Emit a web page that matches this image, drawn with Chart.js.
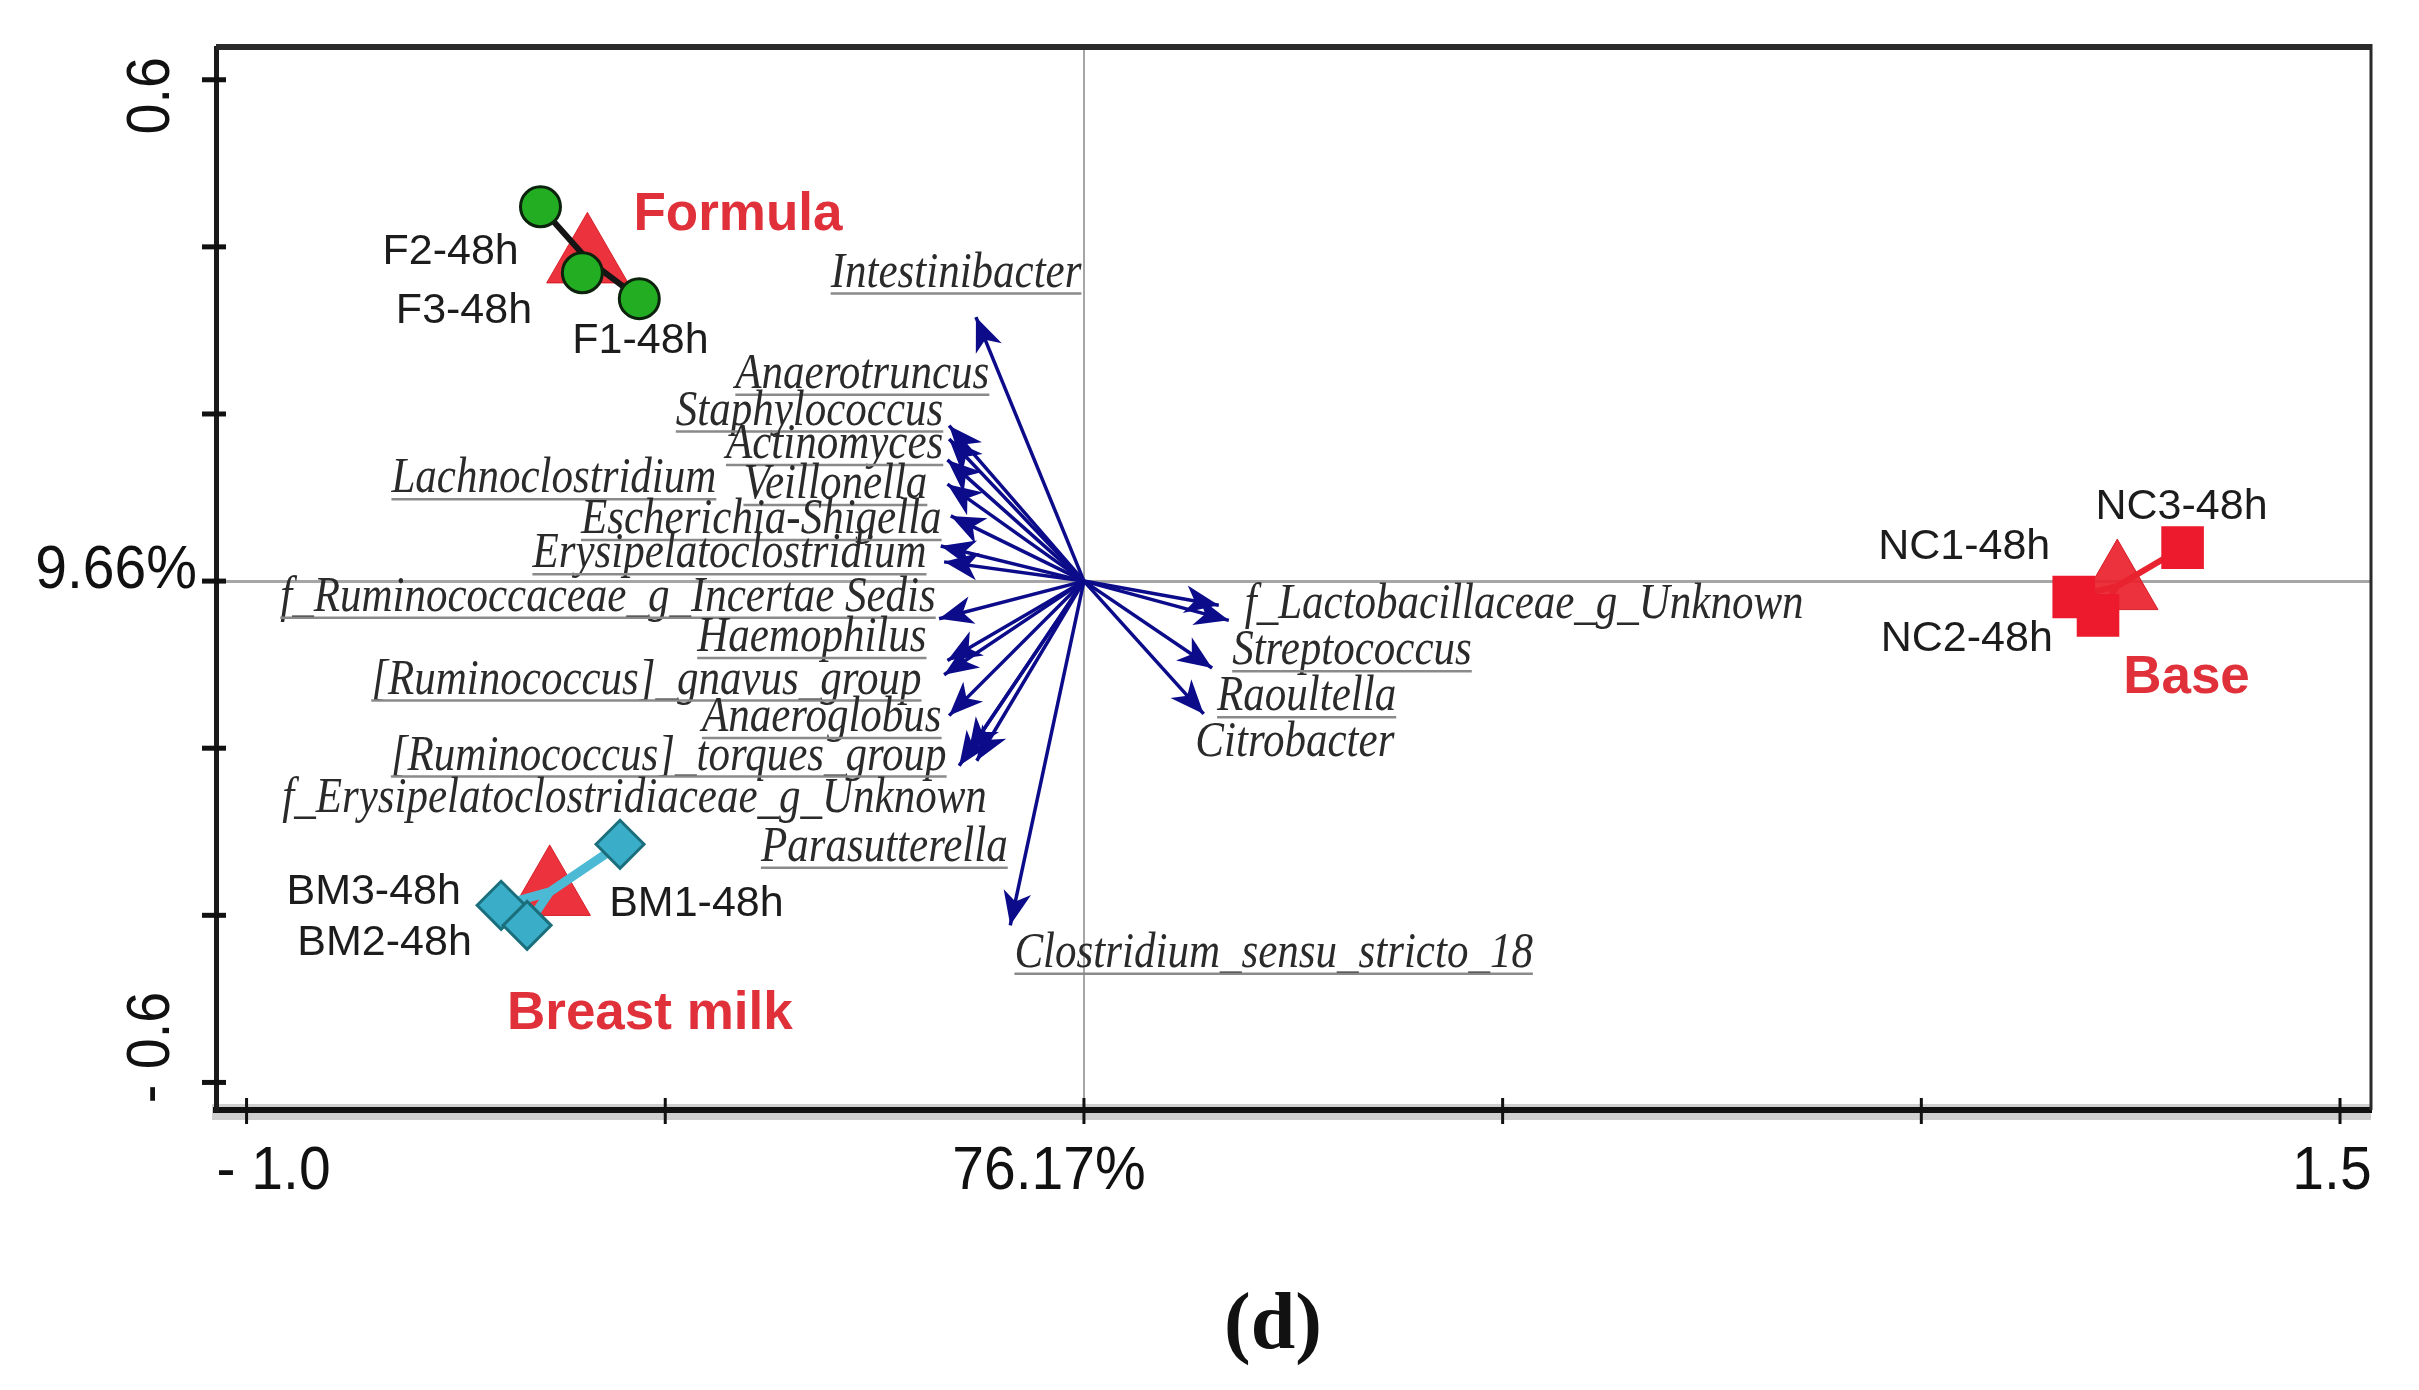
<!DOCTYPE html>
<html>
<head>
<meta charset="utf-8">
<title>RDA (d)</title>
<script src="https://cdn.jsdelivr.net/npm/chart.js@4.4.1/dist/chart.umd.min.js"></script>
<style>
  html, body { margin: 0; padding: 0; background: #fff; }
  #wrap { width: 2419px; height: 1390px; }
</style>
</head>
<body>
<div id="wrap"><canvas id="rda" width="2419" height="1390"></canvas></div>
<script>
// ---- valores ----
const xTicks = [-1.0, -0.5, 0, 0.5, 1.0, 1.5];
const xTickLabels = ['- 1.0', '', '76.17%', '', '', '1.5'];
const yTicks = [-0.6, -0.4, -0.2, 0, 0.2, 0.4, 0.6];
const yTickLabels = ['- 0.6', '', '', '9.66%', '', '', '0.6'];

// especies (flechas)
const speciesNames = [
    'Intestinibacter', 'Anaerotruncus', 'Staphylococcus', 'Actinomyces',
    'Lachnoclostridium', 'Veillonella', 'Escherichia-Shigella', 'Erysipelatoclostridium',
    'f_Ruminococcaceae_g_Incertae Sedis', 'Haemophilus', '[Ruminococcus]_gnavus_group',
    'Anaeroglobus', '[Ruminococcus]_torques_group', 'f_Erysipelatoclostridiaceae_g_Unknown',
    'Parasutterella', 'Clostridium_sensu_stricto_18', 'f_Lactobacillaceae_g_Unknown',
    'Streptococcus', 'Raoultella', 'Citrobacter'
];
const speciesX = [-0.129, -0.161, -0.161, -0.163, -0.171, -0.163, -0.159, -0.167,
    -0.173, -0.163, -0.167, -0.161, -0.149, -0.138, -0.128, -0.088, 0.161, 0.173, 0.153, 0.143];
const speciesY = [0.316, 0.186, 0.170, 0.145, 0.042, 0.116, 0.078, 0.023,
    -0.045, -0.095, -0.112, -0.161, -0.221, -0.205, -0.215, -0.412, -0.029, -0.047, -0.104, -0.159];
const speciesUnderlined = [true, true, true, true, true, true, true, true,
    true, true, true, true, true, false, true, true, false, true, true, false];

// muestras
const sampleNames = ['F2-48h', 'F3-48h', 'F1-48h', 'BM1-48h', 'BM3-48h', 'BM2-48h', 'NC3-48h', 'NC1-48h', 'NC2-48h'];
const sampleX = [-0.649, -0.599, -0.531, -0.554, -0.696, -0.665, 1.312, 1.182, 1.211];
const sampleY = [0.448, 0.369, 0.338, -0.315, -0.388, -0.412, 0.040, -0.019, -0.041];
const sampleGroup = [0, 0, 0, 1, 1, 1, 2, 2, 2];

// grupos (centroides)
const groupNames = ['Formula', 'Breast milk', 'Base'];
const groupX = [-0.593, -0.638, 1.234];
const groupY = [0.385, -0.372, -0.006];

// ---- ubicacion de etiquetas (coordenadas del grafico) ----
const speciesLabelPos = [
    [-0.003, 0.368, 'right'], [-0.113, 0.247, 'right'], [-0.168, 0.203, 'right'], [-0.168, 0.163, 'right'],
    [-0.439, 0.122, 'right'], [-0.187, 0.115, 'right'], [-0.170, 0.073, 'right'], [-0.188, 0.032, 'right'],
    [-0.177, -0.020, 'right'], [-0.188, -0.068, 'right'], [-0.194, -0.119, 'right'], [-0.170, -0.164, 'right'],
    [-0.164, -0.210, 'right'], [-0.116, -0.261, 'right'], [-0.091, -0.319, 'right'], [-0.083, -0.446, 'left'],
    [0.192, -0.028, 'left'], [0.177, -0.084, 'left'], [0.159, -0.139, 'left'], [0.133, -0.194, 'left']
];
const sampleLabelPos = [
    [-0.675, 0.394, 'right'], [-0.659, 0.323, 'right'], [-0.611, 0.287, 'left'],
    [-0.567, -0.387, 'left'], [-0.744, -0.372, 'right'], [-0.731, -0.433, 'right'],
    [1.208, 0.089, 'left'], [1.154, 0.041, 'right'], [1.157, -0.069, 'right']
];
const groupLabelPos = [[-0.538, 0.438], [-0.689, -0.519], [1.241, -0.116]];

const NAVY = '#0c0c8a';
const RED = '#e8222e';
const SQUEEZE = 0.92;
const SPECIES_SQUEEZE = 0.86;

function pt(x, y) { return { x: x, y: y }; }

// flechas: una linea desde el origen hasta cada especie
const arrowSets = speciesNames.map((name, i) => ({
    type: 'line',
    label: name,
    data: [pt(0, 0), pt(speciesX[i], speciesY[i])],
    borderColor: NAVY,
    borderWidth: 3.5,
    pointRadius: 0,
    showLine: true,
    order: 50
}));

// lineas desde el centroide a cada muestra
const spiderColors = ['#151515', '#4cbad4', RED];
const spiderWidths = [6, 9, 6];
const spiderSets = groupNames.map((g, gi) => {
    const pts = [];
    sampleGroup.forEach((sg, i) => {
        if (sg === gi) {
            pts.push(pt(groupX[gi], groupY[gi]));
            pts.push(pt(sampleX[i], sampleY[i]));
        }
    });
    return {
        type: 'line',
        label: g + ' lines',
        data: pts,
        borderColor: spiderColors[gi],
        borderWidth: spiderWidths[gi],
        pointRadius: 0,
        showLine: true,
        order: 30
    };
});

const centroidSet = {
    label: 'centroides',
    data: groupX.map((x, i) => pt(x, groupY[i])),
    pointStyle: 'triangle',
    pointRadius: 47,
    backgroundColor: 'rgba(234,34,44,0.92)',
    borderColor: 'rgba(210,20,30,0.9)',
    borderWidth: 1,
    order: 40
};

const markerStyles = ['circle', 'rectRot', 'rect'];
const markerRadius = [20, 24, 28];
const markerFill = ['#23ad23', '#3aaec8', '#ec1a2c'];
const markerEdge = ['#0c220c', '#1b6f7c', '#ec1a2c'];
const markerSets = groupNames.map((g, gi) => ({
    label: g,
    data: sampleX.map((x, i) => pt(x, sampleY[i])).filter((p, i) => sampleGroup[i] === gi),
    pointStyle: markerStyles[gi],
    pointRadius: markerRadius[gi],
    backgroundColor: markerFill[gi],
    borderColor: markerEdge[gi],
    borderWidth: 3,
    order: 20
}));

function squeezedText(ctx, text, x, y, align, scale) {
    const w = ctx.measureText(text).width * scale;
    let left = x;
    if (align === 'right') left = x - w;
    if (align === 'center') left = x - w / 2;
    ctx.save();
    ctx.translate(left, y);
    ctx.scale(scale, 1);
    ctx.textAlign = 'left';
    ctx.fillText(text, 0, 0);
    ctx.restore();
    return { left: left, width: w };
}

function drawArrowHead(ctx, x0, y0, x1, y1) {
    const dx = x1 - x0, dy = y1 - y0;
    const len = Math.hypot(dx, dy);
    const ux = dx / len, uy = dy / len;
    const nx = -uy, ny = ux;
    const L = 34, W = 14;
    ctx.beginPath();
    ctx.moveTo(x1, y1);
    ctx.lineTo(x1 - ux * L + nx * W, y1 - uy * L + ny * W);
    ctx.lineTo(x1 - ux * L * 0.72, y1 - uy * L * 0.72);
    ctx.lineTo(x1 - ux * L - nx * W, y1 - uy * L - ny * W);
    ctx.closePath();
    ctx.fill();
}

const rdaDecor = {
    id: 'rdaDecor',
    beforeDraw(chart) {
        const ctx = chart.ctx, a = chart.chartArea;
        ctx.save();
        ctx.fillStyle = '#fff';
        ctx.fillRect(0, 0, chart.width, chart.height);
        // sombra gris del eje inferior
        ctx.strokeStyle = '#cfcfcf';
        ctx.lineWidth = 16;
        ctx.beginPath();
        ctx.moveTo(a.left - 4, a.bottom + 2);
        ctx.lineTo(a.right, a.bottom + 2);
        ctx.stroke();
        ctx.restore();
    },
    afterDatasetsDraw(chart) {
        const ctx = chart.ctx, xs = chart.scales.x, ys = chart.scales.y;
        const ox = xs.getPixelForValue(0), oy = ys.getPixelForValue(0);
        ctx.save();
        ctx.fillStyle = NAVY;
        speciesX.forEach((x, i) => {
            drawArrowHead(ctx, ox, oy, xs.getPixelForValue(x), ys.getPixelForValue(speciesY[i]));
        });
        ctx.restore();
    },
    afterDraw(chart) {
        const ctx = chart.ctx, a = chart.chartArea, xs = chart.scales.x, ys = chart.scales.y;
        ctx.save();

        // marco superior y derecho
        ctx.strokeStyle = '#2a2a2a';
        ctx.lineWidth = 6;
        ctx.beginPath();
        ctx.moveTo(a.left, a.top - 1);
        ctx.lineTo(a.right, a.top - 1);
        ctx.stroke();
        ctx.lineWidth = 3;
        ctx.beginPath();
        ctx.moveTo(a.right, a.top - 4);
        ctx.lineTo(a.right, a.bottom);
        ctx.stroke();

        // marcas de los ejes
        ctx.strokeStyle = '#111';
        ctx.lineWidth = 3;
        xTicks.forEach(v => {
            const px = xs.getPixelForValue(v);
            ctx.beginPath();
            ctx.moveTo(px, a.bottom - 12);
            ctx.lineTo(px, a.bottom + 14);
            ctx.stroke();
        });
        ctx.lineWidth = 5;
        yTicks.forEach(v => {
            const py = ys.getPixelForValue(v);
            ctx.beginPath();
            ctx.moveTo(a.left - 14, py);
            ctx.lineTo(a.left + 10, py);
            ctx.stroke();
        });

        // etiquetas de los ejes
        ctx.fillStyle = '#111';
        ctx.font = '62px "Liberation Sans", Arial, sans-serif';
        ctx.textBaseline = 'middle';
        const xLabelShift = [27, 0, -35, 0, 0, -8];
        xTicks.forEach((v, i) => {
            if (!xTickLabels[i]) return;
            squeezedText(ctx, xTickLabels[i], xs.getPixelForValue(v) + xLabelShift[i], a.bottom + 62, 'center', SQUEEZE);
        });
        yTicks.forEach((v, i) => {
            const lab = yTickLabels[i];
            if (!lab) return;
            const py = ys.getPixelForValue(v);
            if (v === 0) {
                squeezedText(ctx, lab, a.left - 19, py - 10, 'right', SQUEEZE);
            } else {
                ctx.save();
                ctx.translate(a.left - 64, v > 0 ? py + 16 : py - 35);
                ctx.rotate(-Math.PI / 2);
                squeezedText(ctx, lab, 0, 0, 'center', 0.9);
                ctx.restore();
            }
        });

        // nombres de especies
        ctx.font = 'italic 50px "Liberation Serif", "Times New Roman", serif';
        speciesNames.forEach((name, i) => {
            const p = speciesLabelPos[i];
            const px = xs.getPixelForValue(p[0]), py = ys.getPixelForValue(p[1]);
            ctx.fillStyle = '#2a2a2a';
            const box = squeezedText(ctx, name, px, py, p[2], SPECIES_SQUEEZE);
            if (speciesUnderlined[i]) {
                ctx.strokeStyle = '#8a8a8a';
                ctx.lineWidth = 2.5;
                ctx.beginPath();
                ctx.moveTo(box.left, py + 20);
                ctx.lineTo(box.left + box.width, py + 20);
                ctx.stroke();
            }
        });

        // nombres de muestras
        ctx.font = '43px "Liberation Sans", Arial, sans-serif';
        ctx.fillStyle = '#1c1c1c';
        sampleNames.forEach((name, i) => {
            const p = sampleLabelPos[i];
            squeezedText(ctx, name, xs.getPixelForValue(p[0]), ys.getPixelForValue(p[1]), p[2], 1);
        });

        // nombres de grupos
        ctx.font = 'bold 53px "Liberation Sans", Arial, sans-serif';
        ctx.fillStyle = '#e0303a';
        groupNames.forEach((name, i) => {
            const p = groupLabelPos[i];
            squeezedText(ctx, name, xs.getPixelForValue(p[0]), ys.getPixelForValue(p[1]), 'left', 1);
        });

        // pie de figura
        ctx.font = 'bold 80px "Liberation Serif", "Times New Roman", serif';
        ctx.fillStyle = '#111';
        squeezedText(ctx, '(d)', 1273, 1327, 'center', 1);

        ctx.restore();
    }
};

function zeroGrid(c) {
    return c.tick && Math.abs(c.tick.value) < 1e-9 ? '#a6a6a6' : 'rgba(0,0,0,0)';
}

new Chart(document.getElementById('rda'), {
    type: 'scatter',
    data: {
        datasets: [...markerSets, centroidSet, ...spiderSets, ...arrowSets]
    },
    options: {
        responsive: false,
        animation: false,
        events: [],
        layout: { padding: { top: 36, right: 32, left: 0, bottom: 0 } },
        plugins: {
            legend: { display: false },
            tooltip: { enabled: false }
        },
        scales: {
            x: {
                type: 'linear',
                min: -1.0365,
                max: 1.537,
                afterBuildTicks: s => { s.ticks = xTicks.map(v => ({ value: v })); },
                afterFit: s => { s.height = 280; },
                ticks: { display: false },
                grid: { color: zeroGrid, lineWidth: 2, drawTicks: false },
                border: { display: true, color: '#111', width: 6 }
            },
            y: {
                type: 'linear',
                min: -0.633,
                max: 0.638,
                afterBuildTicks: s => { s.ticks = yTicks.map(v => ({ value: v })); },
                afterFit: s => { s.width = 216; },
                ticks: { display: false },
                grid: { color: zeroGrid, lineWidth: 3, drawTicks: false },
                border: { display: true, color: '#1a1a1a', width: 5 }
            }
        }
    },
    plugins: [rdaDecor]
});
</script>
</body>
</html>
